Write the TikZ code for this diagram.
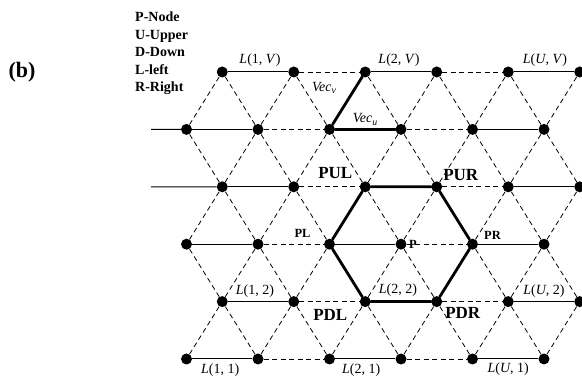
\documentclass[tikz,border=0pt]{standalone}
\usepackage{fontspec}
\setmainfont{Liberation Serif}
\usetikzlibrary{positioning, calc}

\begin{document}
\begin{tikzpicture}[
  x=1pt, y=1pt,
  dot/.style={circle, fill=black, inner sep=0pt, minimum size=11pt},
  solidln/.style={line width=1pt},
  dashln/.style={line width=0.8pt, dash pattern=on 5pt off 3.5pt},
  boldln/.style={line width=2.8pt, line cap=round},
  lbl/.style={font=\fontsize{14}{16}\selectfont, inner sep=1pt},
  plbl/.style={font=\fontsize{17}{19}\selectfont\bfseries, inner sep=1pt},
  psmall/.style={font=\fontsize{12.5}{14}\selectfont\bfseries, inner sep=1pt},
]
\useasboundingbox (0,0) rectangle (582,378);

% --- panel tag and legend ---
\node[font=\fontsize{22}{24}\selectfont\bfseries] (tag) at (22,306) {(b)};
\node[font=\fontsize{14}{17.5}\selectfont\bfseries, align=left, anchor=north west,
      inner sep=0pt] (legend) at (135,366) {P-Node\\ U-Upper\\ D-Down\\ L-left\\ R-Right};

% --- lattice nodes: six rows, odd rows shifted by half a side ---
\foreach \r in {0,...,5}
  \foreach \k in {0,...,5} {
    \pgfmathsetmacro{\xx}{186.5+71.5*\k+35.75*mod(\r,2)}
    \node[dot] (n\k-\r) at (\xx,19+57.4*\r) {};
  }

% --- horizontal links: solid and dashed in turn ---
\foreach \r in {0,...,5} {
  \foreach \k/\kk in {0/1,2/3,4/5} \draw[solidln] (n\k-\r) -- (n\kk-\r);
  \foreach \k/\kk in {1/2,3/4} \draw[dashln] (n\k-\r) -- (n\kk-\r);
}

% --- slanted links between neighbouring rows, all dashed ---
\foreach \r [evaluate=\r as \rr using int(\r+1)] in {0,...,4} {
  \foreach \k in {0,...,5} \draw[dashln] (n\k-\r) -- (n\k-\rr);
  \foreach \k [evaluate=\k as \kk using int(\k+1)] in {0,...,4} {
    \ifodd\r\relax \draw[dashln] (n\k-\r) -- (n\kk-\rr);
    \else \draw[dashln] (n\kk-\r) -- (n\k-\rr); \fi
  }
}

% --- open ends on the left ---
\coordinate (stub4) at (151,248.6);
\coordinate (stub3) at (151,191.2);
\draw[solidln] (stub4) -- (n0-4);
\draw[solidln] (stub3) -- (n0-3);

% --- the two vectors and the hexagon round P ---
\draw[boldln] (n2-4) -- (n3-4);
\draw[boldln] (n2-4) -- (n2-5);
\draw[boldln] (n2-3) -- (n3-3) -- (n4-2) -- (n3-1) -- (n2-1) -- (n2-2) -- (n2-3);

% --- link labels ---
\node[lbl] (l1V) at ($(n0-5)!0.5!(n1-5)+(2,12)$) {\textit{L}(1, \textit{V})};
\node[lbl] (l2V) at ($(n2-5)!0.5!(n3-5)+(-2,12)$) {\textit{L}(2, \textit{V})};
\node[lbl] (lUV) at ($(n4-5)!0.5!(n5-5)+(1,12)$) {\textit{L}(\textit{U}, \textit{V})};
\node[lbl] (l12) at ($(n0-1)!0.5!(n1-1)+(-3,10)$) {\textit{L}(1, 2)};
\node[lbl] (l22) at ($(n2-1)!0.5!(n3-1)+(-3,11)$) {\textit{L}(2, 2)};
\node[lbl] (lU2) at ($(n4-1)!0.5!(n5-1)+(0,10)$) {\textit{L}(\textit{U}, 2)};
\node[lbl] (l11) at ($(n0-0)!0.5!(n1-0)+(-2,-11)$) {\textit{L}(1, 1)};
\node[lbl] (l21) at ($(n2-0)!0.5!(n3-0)+(-4,-11)$) {\textit{L}(2, 1)};
\node[lbl] (lU1) at ($(n4-0)!0.5!(n5-0)+(0,-10)$) {\textit{L}(\textit{U}, 1)};
\node[lbl] (vecv) at ($(n2-4)!0.75!(n2-5)+(-32,-2)$) {\textit{Vec\textsubscript{v}}};
\node[lbl] (vecu) at ($(n2-4)!0.5!(n3-4)+(0,10)$) {\textit{Vec\textsubscript{u}}};

% --- node labels ---
\node[plbl] (pul) at ($(n2-3)+(-30,14)$) {PUL};
\node[plbl] (pur) at ($(n3-3)+(24,12)$) {PUR};
\node[plbl] (pdl) at ($(n2-1)+(-35,-13)$) {PDL};
\node[plbl] (pdr) at ($(n3-1)+(26,-11)$) {PDR};
\node[psmall] (pl) at ($(n2-2)+(-27,11)$) {PL};
\node[psmall] (pr) at ($(n4-2)+(20,9)$) {PR};
\node[psmall] (p) at ($(n3-2)+(12,0)$) {P};

\end{tikzpicture}
\end{document}
